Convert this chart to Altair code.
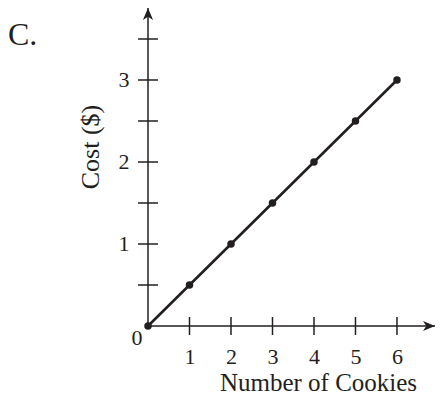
import altair as alt
import pandas as pd

# ---- data ----
cookies = [0, 1, 2, 3, 4, 5, 6]
cost = [0.0, 0.5, 1.0, 1.5, 2.0, 2.5, 3.0]
x_tick_values = [1, 2, 3, 4, 5, 6]
y_tick_values = [0.5, 1.0, 1.5, 2.0, 2.5, 3.0, 3.5]
y_label_values = [1, 2, 3]
x_end = 6.916    # end of the x arrow (data units)
y_top = 3.878    # end of the y arrow (data units)

INK = "#231f20"
FONT = "Liberation Serif"

line_df = pd.DataFrame({"x": cookies, "y": cost})
axis_df = pd.DataFrame({"x": [0, 0], "y": [0, 0], "x2": [x_end, 0], "y2": [0, y_top]})
arrow_df = pd.DataFrame({
    "x": [0, x_end],
    "y": [y_top, 0],
    "s": ["M0,0L0.85,2L0,1.45L-0.85,2Z", "M0,0L-2,-0.85L-1.45,0L-2,0.85Z"],
})
xt_df = pd.DataFrame({"x": x_tick_values, "y": [0] * len(x_tick_values)})
yt_df = pd.DataFrame({"x": [0] * len(y_tick_values), "y": y_tick_values})
zero_df = pd.DataFrame({"x": [0], "y": [0], "t": ["0"]})
panel_df = pd.DataFrame({"t": ["C."]})

x_enc = alt.X(
    "x:Q",
    scale=alt.Scale(domain=[0, x_end], nice=False, zero=False),
    axis=alt.Axis(
        values=x_tick_values, domain=False, ticks=False, grid=False,
        labelFont=FONT, labelFontSize=22, labelColor=INK, labelPadding=20,
        labelFlush=False, labelOverlap=False,
        title="Number of Cookies", titleFont=FONT, titleFontSize=25,
        titleFontWeight="normal", titleColor=INK, titleX=170, titleY=64,
        titleAlign="center", titleBaseline="alphabetic",
    ),
)
y_enc = alt.Y(
    "y:Q",
    scale=alt.Scale(domain=[0, y_top], nice=False, zero=False),
    axis=alt.Axis(
        values=y_label_values, domain=False, ticks=False, grid=False,
        labelFont=FONT, labelFontSize=22, labelColor=INK, labelPadding=19,
        labelFlush=False, labelOverlap=False,
        title="Cost ($)", titleFont=FONT, titleFontSize=26,
        titleFontWeight="normal", titleColor=INK, titleX=-50, titleY=138.5,
        titleAngle=270, titleAlign="center", titleBaseline="alphabetic",
    ),
)

axes = alt.Chart(axis_df).mark_rule(color=INK, strokeWidth=1.5).encode(
    x=x_enc, y=y_enc, x2="x2:Q", y2="y2:Q"
)
arrows = alt.Chart(arrow_df).mark_point(
    filled=True, color=INK, opacity=1, size=144, strokeWidth=0
).encode(x=x_enc, y=y_enc, shape=alt.Shape("s:N", scale=None, legend=None))
xticks = alt.Chart(xt_df).mark_tick(
    orient="vertical", size=18, thickness=1.5, color=INK, opacity=1
).encode(x=x_enc, y=y_enc)
yticks = alt.Chart(yt_df).mark_tick(
    orient="horizontal", size=20, thickness=1.5, color=INK, opacity=1
).encode(x=x_enc, y=y_enc)
line = alt.Chart(line_df).mark_line(color=INK, strokeWidth=2.6).encode(x=x_enc, y=y_enc)
pts = alt.Chart(line_df).mark_circle(size=56, color=INK, opacity=1).encode(x=x_enc, y=y_enc)
zero = alt.Chart(zero_df).mark_text(
    font=FONT, fontSize=22, color=INK, dx=-11, dy=11.5, align="center", baseline="middle"
).encode(x=x_enc, y=y_enc, text="t:N")
panel = alt.Chart(panel_df).mark_text(
    font=FONT, fontSize=32, color=INK, align="left", baseline="alphabetic"
).encode(x=alt.value(-140), y=alt.value(37), text="t:N")

chart = alt.layer(axes, xticks, yticks, arrows, line, pts, zero, panel).properties(
    width=287,
    height=318,
    autosize=alt.AutoSizeParams(type="none"),
    padding={"left": 140, "top": 0, "right": 0, "bottom": 70},
).configure_view(stroke=None)

chart.save("out.html", embed_options={"renderer": "svg", "actions": False})
